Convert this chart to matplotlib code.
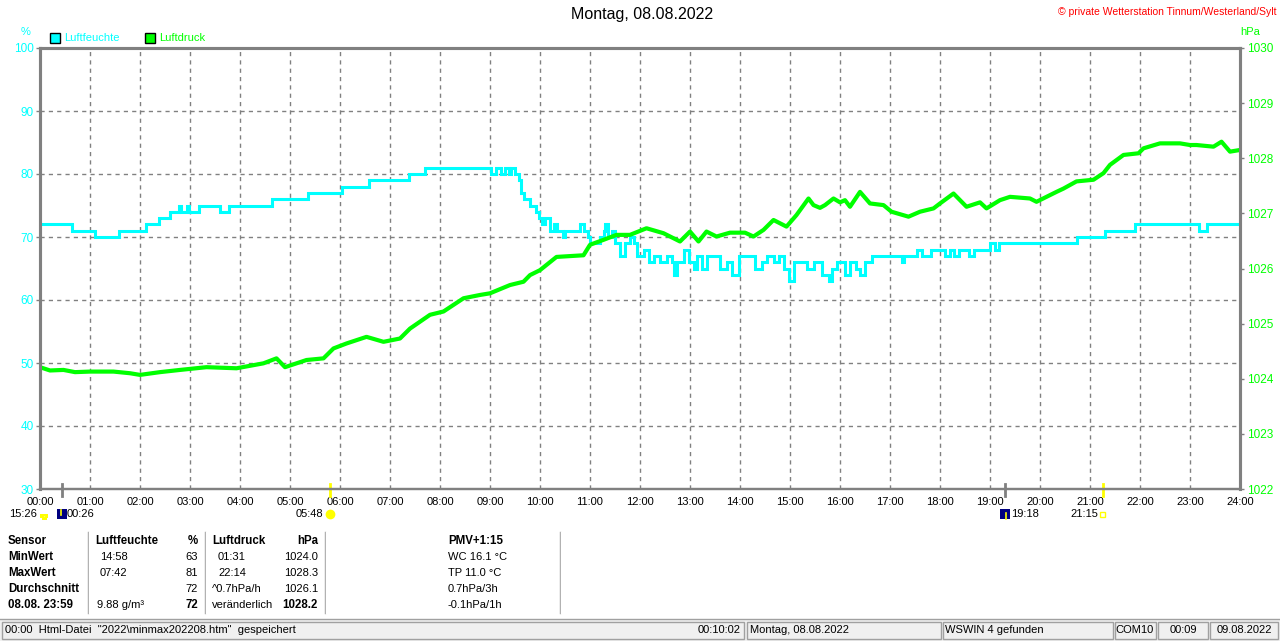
import matplotlib
matplotlib.use("Agg")
import matplotlib.pyplot as plt
from matplotlib.patches import Rectangle, Wedge
from matplotlib.lines import Line2D

plt.rcParams['font.family'] = ['Liberation Sans', 'DejaVu Sans']

W, H = 1280, 641

# ---- data ----
hours = list(range(25))
hour_labels = [f"{h:02d}:00" for h in hours]

# Luftfeuchte (%), step values starting at the given hour
hum_t = [0, 0.63, 1.1, 1.57, 2.12, 2.37, 2.6, 2.77, 2.82, 2.93, 2.98, 3.17, 3.6, 3.78, 4.63, 5.35,
         6.04, 6.57, 7.38, 7.7, 9.02, 9.12, 9.22, 9.3, 9.38, 9.42, 9.5, 9.57, 9.61, 9.67, 9.8, 9.92,
         9.97, 10.03, 10.1, 10.19, 10.28, 10.33, 10.45, 10.5, 10.8, 10.88, 10.95, 11.0, 11.2, 11.27,
         11.3, 11.35, 11.43, 11.5, 11.6, 11.7, 11.8, 11.87, 11.93, 12.07, 12.17, 12.27, 12.4, 12.53,
         12.63, 12.67, 12.73, 12.87, 12.97, 13.07, 13.13, 13.23, 13.33, 13.6, 13.73, 13.83, 13.97,
         14.3, 14.43, 14.53, 14.67, 14.77, 14.87, 14.97, 15.07, 15.33, 15.47, 15.63, 15.77, 15.83,
         15.93, 16.1, 16.2, 16.33, 16.4, 16.5, 16.63, 17.23, 17.27, 17.53, 17.63, 17.83, 18.1, 18.2,
         18.27, 18.37, 18.57, 18.67, 19.0, 19.1, 19.17, 20.73, 21.3, 21.9, 23.17, 23.33, 24.0]
hum_v = [72, 71, 70, 71, 72, 73, 74, 75, 74, 75, 74, 75, 74, 75, 76, 77,
         78, 79, 80, 81, 80, 81, 80, 81, 80, 81, 80, 79, 77, 76, 75, 74,
         73, 72, 73, 71, 72, 71, 70, 71, 72, 71, 70, 69, 70, 71,
         72, 70, 71, 69, 67, 69, 70, 69, 67, 68, 66, 67, 66, 67,
         66, 64, 66, 68, 66, 65, 67, 65, 67, 65, 66, 64, 67,
         65, 66, 67, 66, 67, 65, 63, 66, 65, 66, 64, 63, 65,
         66, 64, 66, 65, 64, 66, 67, 66, 67, 68, 67, 68, 67, 68,
         67, 68, 67, 68, 69, 68, 69, 70, 71, 72, 71, 72, 72]

# Luftdruck (hPa)
p_t = [0, 0.2, 0.47, 0.7, 1.0, 1.47, 1.8, 2.0, 2.4, 2.8, 3.33, 3.93, 4.47, 4.73, 4.9, 5.33, 5.67,
       5.87, 6.13, 6.53, 6.87, 7.2, 7.4, 7.8, 8.07, 8.47, 8.8, 9.0, 9.4, 9.67, 9.8, 10.0, 10.33,
       10.87, 11.0, 11.27, 11.53, 11.8, 12.13, 12.47, 12.8, 13.0, 13.17, 13.33, 13.53, 13.8, 14.1,
       14.27, 14.47, 14.67, 14.93, 15.13, 15.37, 15.47, 15.6, 15.7, 15.87, 16.0, 16.1, 16.2, 16.4,
       16.6, 16.87, 17.03, 17.37, 17.6, 17.87, 18.0, 18.27, 18.53, 18.8, 18.93, 19.2, 19.4, 19.8,
       19.93, 20.13, 20.33, 20.47, 20.73, 21.07, 21.27, 21.4, 21.67, 21.97, 22.07, 22.4, 22.8,
       23.0, 23.13, 23.47, 23.63, 23.8, 24.0]
p_v = [1024.21, 1024.15, 1024.16, 1024.12, 1024.13, 1024.13, 1024.10, 1024.07, 1024.12, 1024.16,
       1024.21, 1024.19, 1024.28, 1024.37, 1024.21, 1024.34, 1024.37, 1024.55, 1024.64, 1024.76,
       1024.67, 1024.73, 1024.91, 1025.16, 1025.22, 1025.46, 1025.52, 1025.55, 1025.70, 1025.76,
       1025.88, 1025.97, 1026.21, 1026.24, 1026.43, 1026.52, 1026.61, 1026.61, 1026.73, 1026.64,
       1026.49, 1026.67, 1026.49, 1026.67, 1026.58, 1026.65, 1026.65, 1026.58, 1026.70, 1026.88,
       1026.76, 1026.97, 1027.27, 1027.15, 1027.10, 1027.15, 1027.27, 1027.20, 1027.24, 1027.12,
       1027.39, 1027.18, 1027.15, 1027.03, 1026.94, 1027.03, 1027.09, 1027.18, 1027.36, 1027.12,
       1027.20, 1027.09, 1027.24, 1027.30, 1027.27, 1027.21, 1027.30, 1027.39, 1027.45, 1027.58,
       1027.61, 1027.73, 1027.88, 1028.06, 1028.09, 1028.18, 1028.27, 1028.27, 1028.24, 1028.24,
       1028.21, 1028.30, 1028.12, 1028.15]

hum_ticks = [30, 40, 50, 60, 70, 80, 90, 100]
p_ticks = [1022, 1023, 1024, 1025, 1026, 1027, 1028, 1029, 1030]

# sun / moon events (hour, colour)
events = [(26 / 60, "#808080"), (5 + 48 / 60, "#ffff00"), (19 + 18 / 60, "#808080"), (21 + 15 / 60, "#ffff00")]

# table rows
row_labels = ["Sensor", "MinWert", "MaxWert", "Durchschnitt", "08.08. 23:59"]
hum_times = ["", "14:58", "07:42", "", "9.88 g/m³"]
hum_vals = ["%", "63", "81", "72", "72"]
p_times = ["", "01:31", "22:14", "^0.7hPa/h", "veränderlich"]
p_vals = ["hPa", "1024.0", "1028.3", "1026.1", "1028.2"]
pmv_lines = ["PMV+1:15", "WC 16.1 °C", "TP 11.0 °C", "0.7hPa/3h", "-0.1hPa/1h"]

CYAN = "#00ffff"
GREEN = "#00ff00"
GRAY = "#808080"


def fx(x):
    return x / W


def fy(y):
    return 1 - y / H


fig = plt.figure(figsize=(W / 100, H / 100), dpi=100)
fig.patch.set_facecolor("white")
ax = fig.add_axes([fx(40), fy(489), 1200 / W, 441 / H])
ax2 = ax.twinx()

ax.plot(hum_t, hum_v, drawstyle="steps-post", color=CYAN, lw=2.2, solid_joinstyle="miter")
ax2.plot(p_t, p_v, color=GREEN, lw=3.0)

ax.set_xlim(0, 24)
ax.set_ylim(30, 100)
ax2.set_ylim(1022, 1030)

ax.set_xticks(hours)
ax.set_xticklabels(hour_labels, fontsize=8)
ax.set_yticks(hum_ticks)
ax.set_yticklabels([str(v) for v in hum_ticks], fontsize=8.5, color=CYAN)
ax2.set_yticks(p_ticks)
ax2.set_yticklabels([str(v) for v in p_ticks], fontsize=8.5, color=GREEN)

ax.tick_params(axis="x", length=0, pad=6)
ax.tick_params(axis="y", length=3, width=1, color=GRAY, pad=1.5)
ax2.tick_params(axis="y", length=3, width=1, color=GRAY, pad=2)

ax.grid(True, color=GRAY, linestyle=(0, (3, 3)), linewidth=1)

for a in (ax, ax2):
    for side in ("left", "right", "top"):
        a.spines[side].set_color(GRAY)
        a.spines[side].set_linewidth(2.2)
    a.spines["bottom"].set_color(GRAY)
    a.spines["bottom"].set_linewidth(1.6)

# event markers below the time axis
tr = ax.get_xaxis_transform()
for t, c in events:
    ax.plot([t, t], [0.012, -0.016], color=c, lw=2, transform=tr, clip_on=False)

# header texts
fig.text(fx(642), fy(15), "Montag, 08.08.2022", ha="center", va="center", fontsize=11.5)
fig.text(fx(1277), fy(12), "© private Wetterstation Tinnum/Westerland/Sylt", ha="right", va="center",
         fontsize=7.5, color="#ff0000")
fig.text(fx(26), fy(32), "%", ha="center", va="center", fontsize=8, color=CYAN)
fig.text(fx(1250), fy(32), "hPa", ha="center", va="center", fontsize=8, color=GREEN)

for x0, col, lab in [(50, CYAN, "Luftfeuchte"), (145, GREEN, "Luftdruck")]:
    fig.add_artist(Rectangle((fx(x0), fy(43)), 10 / W, 10 / H, facecolor=col, edgecolor="black", lw=1))
    fig.text(fx(x0 + 14), fy(38), lab, ha="left", va="center", fontsize=8, color=col)

# sun / moon times below the axis
fig.text(fx(37), fy(514), "15:26", ha="right", va="center", fontsize=8)
fig.add_artist(Line2D([fx(44)], [fy(516)], marker=(3, 0, 0), markersize=0.1, color="white"))
fig.add_artist(Rectangle((fx(40), fy(518)), 8 / W, 4 / H, facecolor="#ffff00", edgecolor="none"))
fig.add_artist(Rectangle((fx(41.5), fy(520)), 5 / W, 2 / H, facecolor="#ffff00", edgecolor="none"))
fig.add_artist(Rectangle((fx(57), fy(519)), 10 / W, 10 / H, facecolor="#000080", edgecolor="none"))
fig.add_artist(Line2D([fx(61), fx(61)], [fy(510), fy(515)], color="#ffff00", lw=1.2))
fig.text(fx(67), fy(514), "00:26", ha="left", va="center", fontsize=8)
fig.text(fx(323), fy(514), "05:48", ha="right", va="center", fontsize=8)
fig.add_artist(Line2D([fx(330)], [fy(514)], marker="o", markersize=6, color="#ffff00"))
fig.add_artist(Rectangle((fx(1000), fy(519)), 10 / W, 10 / H, facecolor="#000080", edgecolor="none"))
fig.add_artist(Line2D([fx(1006), fx(1006)], [fy(513), fy(519)], color="#ffff00", lw=1.2))
fig.text(fx(1011), fy(514), "19:18", ha="left", va="center", fontsize=8)
fig.text(fx(1098), fy(514), "21:15", ha="right", va="center", fontsize=8)
fig.add_artist(Rectangle((fx(1100), fy(517)), 5 / W, 5 / H, facecolor="none", edgecolor="#ffff00", lw=1))

# table
row_y = [541, 557, 573, 589, 605]
for i, y in enumerate(row_y):
    head = i == 0
    fig.text(fx(8), fy(y), row_labels[i], ha="left", va="center", fontsize=8.3, fontweight="bold")
    if head:
        fig.text(fx(95), fy(y), "Luftfeuchte", ha="left", va="center", fontsize=8.3, fontweight="bold")
        fig.text(fx(212), fy(y), "Luftdruck", ha="left", va="center", fontsize=8.3, fontweight="bold")
    else:
        fig.text(fx(100 if i < 4 else 97), fy(y), hum_times[i], ha="left", va="center", fontsize=8)
        fig.text(fx(218 if i < 3 else 212), fy(y), p_times[i], ha="left", va="center", fontsize=8)
    bold = head or i == 4
    fig.text(fx(198), fy(y), hum_vals[i], ha="right", va="center", fontsize=8.3 if bold else 8,
             fontweight="bold" if bold else "normal")
    fig.text(fx(318), fy(y), p_vals[i], ha="right", va="center", fontsize=8.3 if bold else 8,
             fontweight="bold" if bold else "normal")
    fig.text(fx(448), fy(y), pmv_lines[i], ha="left", va="center", fontsize=8.3 if head else 8,
             fontweight="bold" if head else "normal")

for x in (88, 205, 325, 560):
    fig.add_artist(Line2D([fx(x), fx(x)], [fy(532), fy(613)], color="#a0a0a0", lw=1))
    fig.add_artist(Line2D([fx(x + 1), fx(x + 1)], [fy(532), fy(613)], color="white", lw=1))

# status bar
fig.add_artist(Rectangle((0, 0), 1, 21 / H, facecolor="#f0f0f0", edgecolor="none"))
fig.add_artist(Line2D([0, 1], [fy(619), fy(619)], color="#a0a0a0", lw=1))
panels = [(2, 744), (747, 941), (943, 1113), (1115, 1156), (1158, 1208), (1210, 1278)]
for x0, x1 in panels:
    fig.add_artist(Rectangle((fx(x0), fy(639)), (x1 - x0) / W, 17 / H, facecolor="#f0f0f0",
                             edgecolor="#a0a0a0", lw=1))
fig.text(fx(5), fy(630), '00:00  Html-Datei  "2022\\minmax202208.htm"  gespeichert', ha="left",
         va="center", fontsize=8)
fig.text(fx(741), fy(630), "00:10:02", ha="right", va="center", fontsize=8)
fig.text(fx(750), fy(630), "Montag, 08.08.2022", ha="left", va="center", fontsize=8)
fig.text(fx(945), fy(630), "WSWIN 4 gefunden", ha="left", va="center", fontsize=8)
fig.text(fx(1135), fy(630), "COM10", ha="center", va="center", fontsize=8)
fig.text(fx(1183), fy(630), "00:09", ha="center", va="center", fontsize=8)
fig.text(fx(1244), fy(630), "09.08.2022", ha="center", va="center", fontsize=8)

fig.savefig("out.png", dpi=100)
